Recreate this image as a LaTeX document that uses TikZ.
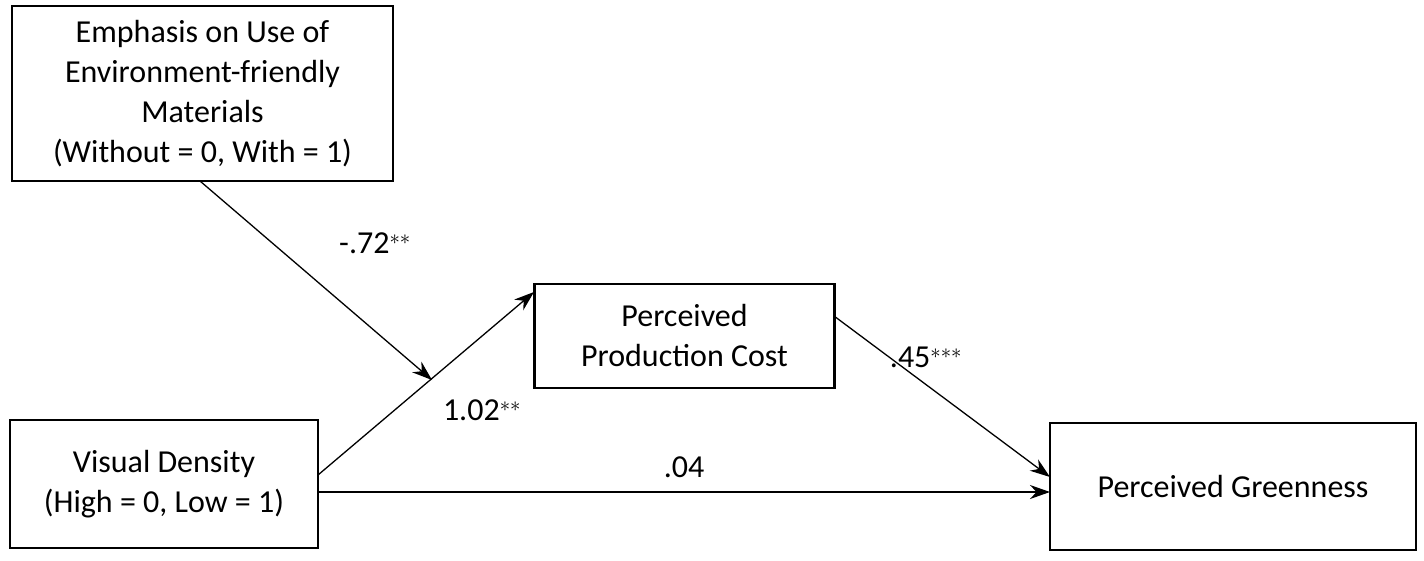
\documentclass[tikz,border=0pt]{standalone}
\usepackage{fontspec}
\setmainfont{Carlito}
\usetikzlibrary{arrows.meta}
\begin{document}
\begin{tikzpicture}[x=1pt,y=-1pt,
  box/.style={draw,line width=2.5pt,align=center,inner sep=0pt,font=\fontsize{32}{40}\selectfont},
  arr/.style={line width=1.3pt,-{Stealth[length=20pt,width=14pt]}},
  lab/.style={font=\fontsize{32}{38}\selectfont}]
\useasboundingbox (0,0) rectangle (1424,560);
\node[box,minimum width=381pt,minimum height=175pt] (emp) at (202.5,93.5) {Emphasis on Use of\\Environment-friendly\\Materials\\(Without = 0, With = 1)};
\node[box,minimum width=300pt,minimum height=104pt] (ppc) at (684.5,336) {Perceived\\Production Cost};
\node[box,minimum width=308pt,minimum height=128pt] (vd) at (164,484) {Visual Density\\(High = 0, Low = 1)};
\node[box,minimum width=366pt,minimum height=127pt] (pg) at (1233,486.5) {Perceived Greenness};
\coordinate (vdr) at (318,475);
\coordinate (ppcl) at (534,292);
\coordinate (emb) at (200,181);
\coordinate (mid) at (432,380);
\coordinate (vdr2) at (318,492);
\coordinate (pgl) at (1050,492);
\coordinate (ppcr) at (834,316);
\coordinate (pgl2) at (1050,477);
\draw[arr] (vdr) -- (ppcl);
\draw[arr] (emb) -- (mid);
\draw[arr] (vdr2) -- (pgl);
\draw[arr] (ppcr) -- (pgl2);
\node[lab] (l1) at (375,243) {-.72$^{**}$};
\node[lab] (l2) at (482,410) {1.02$^{**}$};
\node[lab] (l3) at (684,467) {.04};
\node[lab] (l4) at (926,357) {.45$^{***}$};
\end{tikzpicture}
\end{document}
